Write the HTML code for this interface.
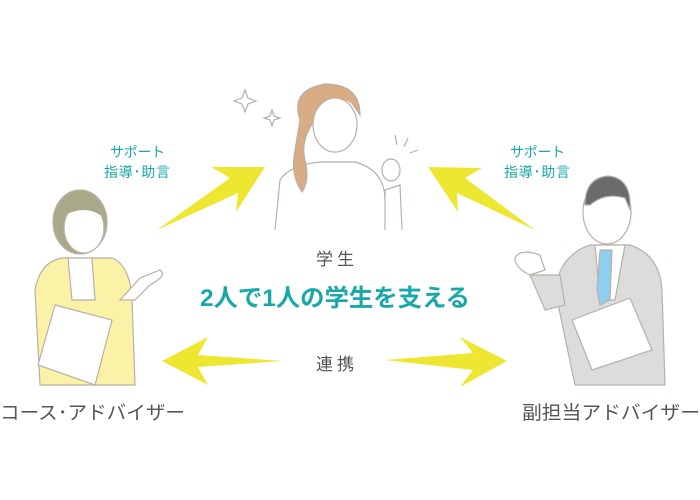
<!DOCTYPE html>
<html><head><meta charset="utf-8"><style>
html,body{margin:0;padding:0;background:#fff;}
svg{display:block}
text{font-family:"Liberation Sans","Noto Sans CJK JP",sans-serif;}
</style></head><body>
<svg width="700" height="500" viewBox="0 0 700 500" xmlns="http://www.w3.org/2000/svg">
<g fill="#ede731">
<polygon points="157,230 230,178 211,167 265,167 236,212 238,193"/>
<polygon points="162,361 208,337 198,355 283,361 198,367 208,385"/>
<polygon points="535,230 465,178 482,168 428,167 458,212 457,193"/>
<polygon points="385,360 473,353 460,337 507,361 460,387 473,370"/>
</g>
<!-- left woman -->
<g stroke="#b8b0a8" stroke-width="1.2">
<path d="M35,290 Q40,262 62,258 L112,258 Q130,265 132,300 L135,385 L40,385 Z" fill="#fbf2a8"/>
<path d="M120,300 L140,278 L160,270 Q168,275 150,285 L135,300 Z" fill="#fff"/>
<path d="M68,258 L92,258 L95,300 L72,300 Z" fill="#fff"/>
<ellipse cx="80" cy="222" rx="27" ry="32" fill="#aaa98a"/>
<ellipse cx="84" cy="228" rx="20" ry="25" fill="#fff"/>
<path d="M60,205 Q80,188 105,210 L100,215 Q85,205 65,215 Z" fill="#aaa98a" stroke="none"/>
<polygon points="55,305 112,320 95,385 38,365" fill="#fff"/>
</g>
<!-- student -->
<g stroke="#b8b0a8" stroke-width="1.2">
<path d="M275,230 L280,180 Q290,165 320,162 L355,162 Q385,170 385,200 L390,230" fill="#fff"/>
<path d="M385,230 L385,190 L400,185 L402,230" fill="#fff"/>
<ellipse cx="391" cy="170" rx="9" ry="11" fill="#fff"/>
<path d="M300,120 Q290,90 325,84 Q360,84 360,115 L350,100 Q330,95 315,120 Q300,140 305,160 Q310,180 302,192 Q290,175 295,150 Z" fill="#d9ac84"/>
<ellipse cx="335" cy="125" rx="22" ry="27" fill="#fff"/>
<path d="M310,110 Q330,86 358,108 L356,100 Q340,85 315,95 Z" fill="#d9ac84" stroke="none"/>
<path d="M245,90 L248,98 L256,101 L248,104 L245,112 L242,104 L234,101 L242,98 Z M272,110 L274,116 L280,118 L274,120 L272,126 L270,120 L264,118 L270,116 Z" fill="none"/>
<path d="M395,135 L397,145 M408,138 L404,147 M418,150 L410,153" fill="none"/>
</g>
<!-- man -->
<g stroke="#b8b0a8" stroke-width="1.2">
<path d="M555,290 Q560,255 590,245 L630,245 Q660,255 662,290 L665,385 L575,385 Z" fill="#dcdcdc"/>
<path d="M530,275 L545,310 L565,305 L560,275 Z" fill="#dcdcdc"/>
<path d="M515,258 Q520,248 540,255 L545,270 L530,275 Q515,268 515,258 Z" fill="#fff"/>
<path d="M595,245 L625,245 L615,300 L600,300 Z" fill="#fff"/>
<path d="M600,250 L612,250 L610,300 L600,305 L597,290 Z" fill="#8ecff0"/>
<polygon points="572,320 630,298 652,350 592,370" fill="#fff"/>
<ellipse cx="607" cy="212" rx="24" ry="32" fill="#fff"/>
<path d="M585,205 Q585,178 608,176 Q632,178 630,210 L625,198 Q605,192 590,205 Z" fill="#6b6b6b"/>
</g>
<g fill="#555" font-size="19">
<text x="0" y="419" textLength="185" lengthAdjust="spacingAndGlyphs">コース･アドバイザー</text>
<text x="522" y="419" textLength="178" lengthAdjust="spacingAndGlyphs">副担当アドバイザー</text>
</g>
<g fill="#555" font-size="17">
<text x="316" y="265" textLength="38">学生</text>
<text x="316" y="370" textLength="38">連携</text>
</g>
<g fill="#1aa7a7" font-size="14">
<text x="110" y="157" textLength="55">サポート</text>
<text x="104" y="177" textLength="66">指導･助言</text>
<text x="510" y="157" textLength="55">サポート</text>
<text x="504" y="177" textLength="66">指導･助言</text>
</g>
<text x="200" y="306" fill="#1aa7a7" font-size="24" font-weight="bold" textLength="270" lengthAdjust="spacingAndGlyphs">2人で1人の学生を支える</text>
</svg>
</body></html>
